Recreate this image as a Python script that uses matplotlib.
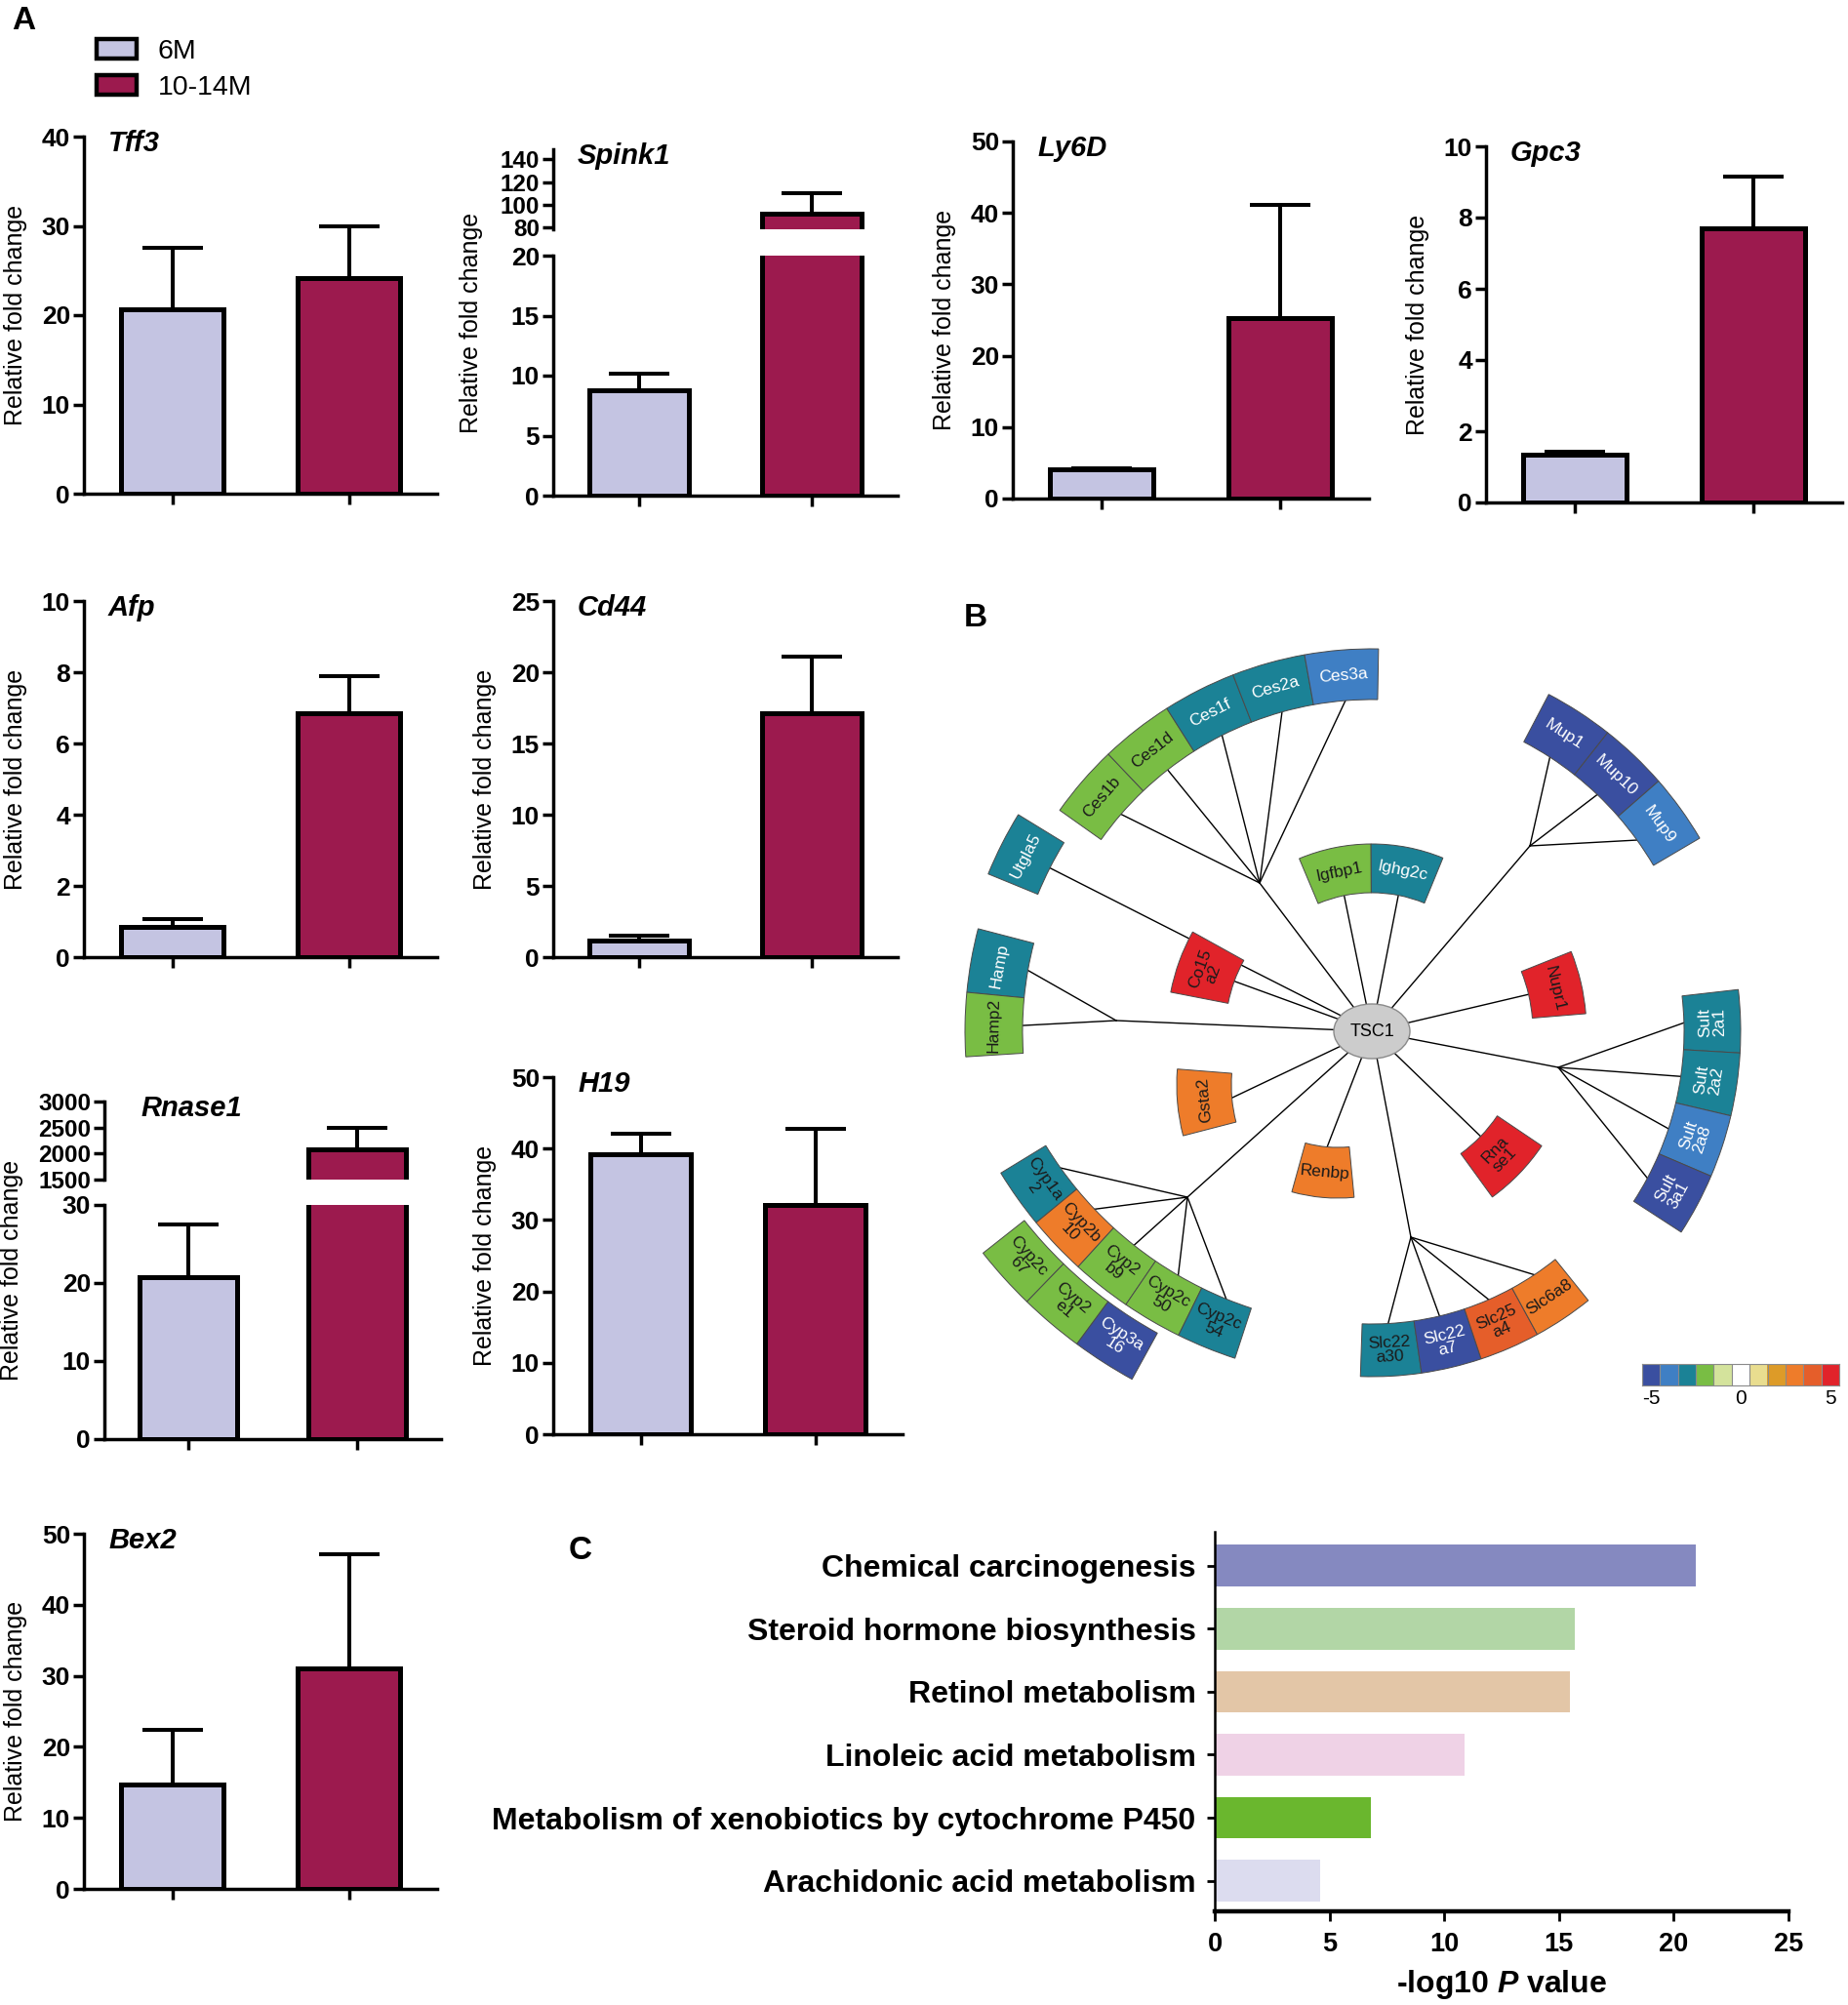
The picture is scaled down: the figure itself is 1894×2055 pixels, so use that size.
import numpy as np
import matplotlib
matplotlib.use('Agg')
import matplotlib.pyplot as plt
from matplotlib.patches import Wedge, Ellipse, Patch
from matplotlib.colors import ListedColormap, Normalize

plt.rcParams['font.family'] = ['Liberation Sans', 'DejaVu Sans']
plt.rcParams['mathtext.fontset'] = 'custom'
plt.rcParams['mathtext.it'] = 'Liberation Sans:italic:bold'
plt.rcParams['mathtext.rm'] = 'Liberation Sans:bold'

W, H = 1894, 2055

# ---------------- panel A data (qPCR, mean and SEM) ----------------
genes = ['Tff3', 'Spink1', 'Ly6D', 'Gpc3', 'Afp', 'Cd44', 'Rnase1', 'H19', 'Bex2']
mean_6m = [20.7, 8.8, 4.1, 1.35, 0.86, 1.17, 20.7, 39.2, 14.7]
err_6m = [6.8, 1.4, 0.2, 0.08, 0.22, 0.33, 6.8, 2.9, 7.7]
mean_old = [24.1, 92.0, 25.3, 7.7, 6.85, 17.1, 2075, 32.1, 31.0]
err_old = [5.9, 18.0, 15.8, 1.45, 1.05, 4.0, 425, 10.7, 16.1]
groups = ['6M', '10-14M']

# y scales (second entry = upper part of a broken axis)
yscale = {
    'Tff3': dict(lim=(0, 40), ticks=[0, 10, 20, 30, 40]),
    'Spink1': dict(lim=(0, 20), ticks=[0, 5, 10, 15, 20], lim2=(78.5, 148.8), ticks2=[80, 100, 120, 140]),
    'Ly6D': dict(lim=(0, 50), ticks=[0, 10, 20, 30, 40, 50]),
    'Gpc3': dict(lim=(0, 10), ticks=[0, 2, 4, 6, 8, 10]),
    'Afp': dict(lim=(0, 10), ticks=[0, 2, 4, 6, 8, 10]),
    'Cd44': dict(lim=(0, 25), ticks=[0, 5, 10, 15, 20, 25]),
    'Rnase1': dict(lim=(0, 30), ticks=[0, 10, 20, 30], lim2=(1500, 3000), ticks2=[1500, 2000, 2500, 3000]),
    'H19': dict(lim=(0, 50), ticks=[0, 10, 20, 30, 40, 50]),
    'Bex2': dict(lim=(0, 50), ticks=[0, 10, 20, 30, 40, 50]),
}

# ---------------- panel B data (network, fold change class) ----------------
net_genes = ['Ces1b', 'Ces1d', 'Ces1f', 'Ces2a', 'Ces3a', 'Mup1', 'Mup10', 'Mup9',
             'Igfbp1', 'Ighg2c', 'Utgla5', 'Hamp', 'Hamp2', 'Co15a2', 'Nupr1',
             'Sult2a1', 'Sult2a2', 'Sult2a8', 'Sult3a1', 'Rnase1', 'Renbp', 'Gsta2',
             'Cyp1a2', 'Cyp2b10', 'Cyp2b9', 'Cyp2c50', 'Cyp2c54', 'Cyp2c67', 'Cyp2e1', 'Cyp3a16',
             'Slc22a30', 'Slc22a7', 'Slc25a4', 'Slc6a8']
net_labels = ['Ces1b', 'Ces1d', 'Ces1f', 'Ces2a', 'Ces3a', 'Mup1', 'Mup10', 'Mup9',
              'Igfbp1', 'Ighg2c', 'Utgla5', 'Hamp', 'Hamp2', 'Co15\na2', 'Nupr1',
              'Sult\n2a1', 'Sult\n2a2', 'Sult\n2a8', 'Sult\n3a1', 'Rna\nse1', 'Renbp', 'Gsta2',
              'Cyp1a\n2', 'Cyp2b\n10', 'Cyp2\nb9', 'Cyp2c\n50', 'Cyp2c\n54', 'Cyp2c\n67', 'Cyp2\ne1', 'Cyp3a\n16',
              'Slc22\na30', 'Slc22\na7', 'Slc25\na4', 'Slc6a8']
net_fc = [-2, -2, -3, -3, -4, -5, -5, -4,
          -2, -3, -3, -3, -2, 5, 5,
          -3, -3, -4, -5, 5, 3, 3,
          -3, 3, -2, -2, -3, -2, -2, -5,
          -3, -5, 4, 3]
scale_colors = ['#3a4fa0', '#3f7fc4', '#1b8296', '#79bd44', '#d4e39c', '#ffffff',
                '#e9dd8f', '#dd9b28', '#ee7c2a', '#e55e2a', '#e1232a']

# ---------------- panel C data (KEGG enrichment) ----------------
pathways = ['Chemical carcinogenesis', 'Steroid hormone biosynthesis', 'Retinol metabolism',
            'Linoleic acid metabolism', 'Metabolism of xenobiotics by cytochrome P450',
            'Arachidonic acid metabolism']
logp = [20.97, 15.68, 15.49, 10.89, 6.79, 4.6]
path_colors = ['#8589c0', '#b2d6a6', '#e3c6a7', '#efd2e6', '#6ab72e', '#dcdcef']

# ---------------- layout (pixels) ----------------
panel_px = {
    'Tff3': dict(L=86, R=448, T=140, B=506),
    'Spink1': dict(L=567, R=920, T=262, B=508, T2=153, B2=235),
    'Ly6D': dict(L=1038, R=1403, T=145, B=511),
    'Gpc3': dict(L=1523, R=1888, T=150, B=515),
    'Afp': dict(L=86, R=448, T=616, B=981),
    'Cd44': dict(L=567, R=920, T=616, B=981),
    'Rnase1': dict(L=107, R=452, T=1235, B=1475, T2=1129, B2=1209),
    'H19': dict(L=567, R=925, T=1104, B=1470),
    'Bex2': dict(L=86, R=448, T=1572, B=1936),
}
label_off = {'Spink1': 84, 'Rnase1': 95}
title_dx = {'Rnase1': 27}

c6, cold = '#c4c4e2', '#9c1a4e'


def px_box(left, top, right, bottom):
    return [left / W, 1 - bottom / H, (right - left) / W, (bottom - top) / H]


fig = plt.figure(figsize=(W / 100, H / 100), dpi=100)
fig.patch.set_facecolor('white')


def style_y(ax, ticks, size=19):
    ax.set_yticks(ticks, labels=[str(t) for t in ticks], fontsize=size, fontweight='bold')
    ax.tick_params(axis='y', length=8, width=2.5, pad=2)
    ax.spines['left'].set_linewidth(2.5)
    ax.spines['top'].set_visible(False)
    ax.spines['right'].set_visible(False)
    ax.set_facecolor('none')


def draw_bars(ax, i):
    xs = [0, 1]
    ax.bar(xs, [mean_6m[i], mean_old[i]], width=0.58, color=[c6, cold],
           edgecolor='black', linewidth=3.6, zorder=3)
    ax.errorbar(xs, [mean_6m[i], mean_old[i]], yerr=[[0, 0], [err_6m[i], err_old[i]]],
                fmt='none', ecolor='black', elinewidth=2.9, capsize=22, capthick=2.9, zorder=2)
    ax.set_xlim(-0.5, 1.5)


for i, g in enumerate(genes):
    p = panel_px[g]
    ys = yscale[g]
    ax = fig.add_axes(px_box(p['L'], p['T'], p['R'], p['B']))
    draw_bars(ax, i)
    ax.set_ylim(*ys['lim'])
    style_y(ax, ys['ticks'])
    ax.spines['bottom'].set_linewidth(2.5)
    ax.set_xticks([0, 1], labels=[])
    ax.tick_params(axis='x', length=8, width=2.5)
    top_ax, top_px = ax, p['T']
    if 'lim2' in ys:
        ax2 = fig.add_axes(px_box(p['L'], p['T2'], p['R'], p['B2']))
        draw_bars(ax2, i)
        ax2.set_ylim(*ys['lim2'])
        style_y(ax2, ys['ticks2'], size=17.5)
        ax2.spines['bottom'].set_visible(False)
        ax2.set_xticks([])
        top_ax, top_px = ax2, p['T2']
    top_ax.annotate(g, xy=(0, 1), xycoords='axes fraction', xytext=(title_dx.get(g, 18), -5),
                    textcoords='offset points', ha='left', va='center',
                    fontsize=21, fontweight='bold', fontstyle='italic')
    off = label_off.get(g, 70)
    fig.text((p['L'] - off) / W, 1 - (top_px + p['B']) / 2 / H, 'Relative fold change',
             rotation=90, ha='center', va='center', fontsize=18)

fig.legend(handles=[Patch(facecolor=c6, edgecolor='black', linewidth=3.2),
                    Patch(facecolor=cold, edgecolor='black', linewidth=3.2)],
           labels=groups, loc='upper left', bbox_to_anchor=(99 / W, 1 - 40 / H),
           frameon=False, fontsize=20.5, handlelength=1.45, handleheight=0.72,
           handletextpad=0.75, labelspacing=0.38, borderpad=0, borderaxespad=0)

# ---------------- panel B: network ----------------
tsc1 = (1406, 1057)
net_layout = [
    dict(genes=['Ces1b', 'Ces1d', 'Ces1f', 'Ces2a', 'Ces3a'], c=tsc1, r=(340, 392), a=(144.7, 89.0), hub=(1291, 905)),
    dict(genes=['Mup1', 'Mup10', 'Mup9'], c=tsc1, r=(335, 390), a=(62.3, 30.5), hub=(1568, 867)),
    dict(genes=['Igfbp1', 'Ighg2c'], c=tsc1, r=(142, 192), a=(112.8, 67.7)),
    dict(genes=['Utgla5'], c=tsc1, r=(370, 425), a=(157.7, 148.5)),
    dict(genes=['Hamp', 'Hamp2'], c=tsc1, r=(358, 417), a=(165.4, 183.6), hub=(1144, 1046)),
    dict(genes=['Co15a2'], c=tsc1, r=(150, 210), a=(169.0, 151.0)),
    dict(genes=['Nupr1'], c=tsc1, r=(165, 220), a=(21.8, 4.7)),
    dict(genes=['Sult2a1', 'Sult2a2', 'Sult2a8', 'Sult3a1'], c=tsc1, r=(320, 378), a=(6.5, -33.0), hub=(1597, 1094), flip=True),
    dict(genes=['Rnase1'], c=tsc1, r=(155, 210), a=(-34.0, -54.0), flip=True),
    dict(genes=['Gsta2'], c=(1414, 1112), r=(152, 208), a=(175.5, 194.5)),
    dict(genes=['Renbp'], c=(1371, 1052), r=(124, 176), a=(254.5, 275.5), flip=True),
    dict(genes=['Cyp1a2', 'Cyp2b10', 'Cyp2b9', 'Cyp2c50', 'Cyp2c54'], c=(1403, 972), r=(388, 442), a=(211.4, 251.9), hub=(1217, 1227), flip=True),
    dict(genes=['Cyp2c67', 'Cyp2e1', 'Cyp3a16'], c=(1403, 972), r=(450, 504), a=(218.3, 241.2), flip=True, lines=False),
    dict(genes=['Slc22a30', 'Slc22a7', 'Slc25a4', 'Slc6a8'], c=tsc1, r=(300, 354), a=(268.1, 308.8), hub=(1446, 1268), flip=True),
]
dark_text = {'Cyp1a2', 'Cyp2c54', 'Slc22a30'}

cmap = ListedColormap(scale_colors)
norm = Normalize(-5.5, 5.5)

axn = fig.add_axes([0, 0, 1, 1])
axn.set_xlim(0, W)
axn.set_ylim(0, H)
axn.axis('off')
axn.patch.set_visible(False)


def polar(c, r, a):
    return c[0] + r * np.cos(np.radians(a)), (H - c[1]) + r * np.sin(np.radians(a))


T = (tsc1[0], H - tsc1[1])
for grp in net_layout:
    a0, a1 = grp['a']
    n = len(grp['genes'])
    step = (a1 - a0) / n
    rin, rout = grp['r']
    hub = grp.get('hub')
    if hub is not None:
        hx, hy = hub[0], H - hub[1]
        axn.plot([T[0], hx], [T[1], hy], color='black', lw=1.0, zorder=1)
    for k, gname in enumerate(grp['genes']):
        j = net_genes.index(gname)
        t1, t2 = a0 + k * step, a0 + (k + 1) * step
        fc = cmap(norm(net_fc[j]))
        axn.add_patch(Wedge((grp['c'][0], H - grp['c'][1]), rout, min(t1, t2), max(t1, t2),
                            width=rout - rin, facecolor=fc, edgecolor='#4a4a4a', lw=0.7, zorder=3))
        am = (t1 + t2) / 2
        tx, ty = polar(grp['c'], (rin + rout) / 2, am)
        rot = am - 90 + (180 if grp.get('flip') else 0)
        tcol = 'white' if (net_fc[j] <= -3 and gname not in dark_text) else '#1a1a1a'
        axn.text(tx, ty, net_labels[j], rotation=rot, rotation_mode='anchor', ha='center', va='center',
                 fontsize=12.5, color=tcol, linespacing=0.95, zorder=4)
        if grp.get('lines', True):
            ix, iy = polar(grp['c'], rin, am)
            sx, sy = (hx, hy) if hub is not None else T
            axn.plot([sx, ix], [sy, iy], color='black', lw=1.0, zorder=1)

axn.add_patch(Ellipse(T, 78, 56, facecolor='#cccccc', edgecolor='#8a8a8a', lw=1.0, zorder=5))
axn.text(T[0], T[1], 'TSC1', ha='center', va='center', fontsize=13, zorder=6)

# colour scale
axc = fig.add_axes(px_box(1683, 1398, 1885, 1420))
axc.imshow(np.arange(-5, 6).reshape(1, -1), cmap=cmap, norm=norm, aspect='auto')
axc.set_xticks(np.arange(-0.5, 11, 1), minor=True)
axc.grid(which='minor', color='#8a8a8a', lw=0.8)
axc.tick_params(which='minor', length=0)
axc.set_xticks([0, 5, 10], labels=['-5', '0', '5'], fontsize=15)
axc.tick_params(axis='x', length=0, pad=3)
axc.set_yticks([])
for s in axc.spines.values():
    s.set_color('#8a8a8a')
    s.set_linewidth(0.8)

# ---------------- panel C ----------------
ax_c = fig.add_axes(px_box(1245, 1570, 1833, 1959))
ax_c.barh(range(len(pathways)), logp, height=0.66, color=path_colors, zorder=2)
ax_c.set_ylim(5.484, -0.536)
ax_c.set_xlim(0, 25)
ax_c.set_yticks(range(len(pathways)), labels=pathways, fontsize=23, fontweight='bold')
ax_c.set_xticks([0, 5, 10, 15, 20, 25], labels=['0', '5', '10', '15', '20', '25'], fontsize=19.5, fontweight='bold')
ax_c.tick_params(axis='y', length=6, width=2, pad=8)
ax_c.tick_params(axis='x', length=7, width=2, pad=8)
ax_c.spines['top'].set_visible(False)
ax_c.spines['right'].set_visible(False)
ax_c.spines['left'].set_linewidth(1.8)
ax_c.spines['bottom'].set_linewidth(3.2)
ax_c.set_facecolor('none')
ax_c.set_xlabel(r'-log10 $P$ value', fontsize=23, fontweight='bold', labelpad=8)

# panel letters
fig.text(12 / W, 1 - 22 / H, 'A', fontsize=24, fontweight='bold', ha='left', va='center')
fig.text(988 / W, 1 - 634 / H, 'B', fontsize=24, fontweight='bold', ha='left', va='center')
fig.text(583 / W, 1 - 1590 / H, 'C', fontsize=24, fontweight='bold', ha='left', va='center')

fig.savefig('out.png', dpi=100, facecolor='white')
